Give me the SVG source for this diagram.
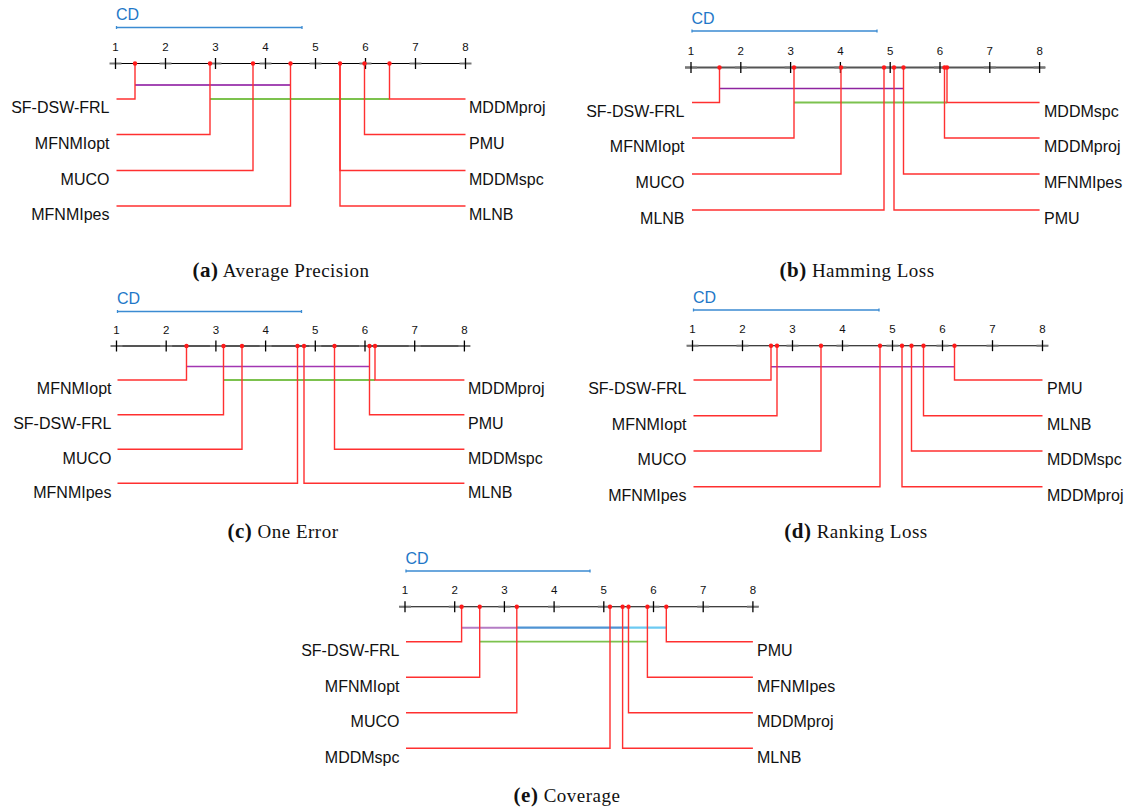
<svg xmlns="http://www.w3.org/2000/svg" xmlns:xlink="http://www.w3.org/1999/xlink" width="1129" height="809" viewBox="0 0 1129 809">
  <style>
    .lbl { font-family: "Liberation Sans", Arial, sans-serif; font-size: 16px; fill: #111; }
    .lbl.l { text-anchor: end; }
    .tk { font-family: "Liberation Sans", Arial, sans-serif; font-size: 11.5px; fill: #111; text-anchor: middle; }
    .cdt { font-family: "Liberation Sans", Arial, sans-serif; font-size: 16px; fill: #1f78c8; }
    .cdb { stroke: #3b8bd2; stroke-width: 1.3; fill: none; }
    .axis { stroke: #000; stroke-width: 1.1; fill: none; }
    .axis.g { stroke: #555; stroke-width: 1.8; }
    .ln { stroke: #ff3030; stroke-width: 1.4; fill: none; }
    .dot { fill: #ff1a1a; }
    .pu { stroke: #a448b4; stroke-width: 1.8; fill: none; }
    .gr { stroke: #7cc24e; stroke-width: 1.8; fill: none; }
    .bl { stroke: #4f93d3; stroke-width: 2.2; fill: none; }
    .cy { stroke: #6ccaf2; stroke-width: 2.2; fill: none; }
    .cap { font-family: "Liberation Serif", "Times New Roman", serif; font-size: 19px; fill: #111; text-anchor: middle; letter-spacing: 0.5px; }
    .capb { font-weight: bold; font-size: 21px; }
  </style>
  <defs>
    <!-- "+" tick marker on the rank axis -->
    <g id="plus">
      <path d="M-6 0H6" stroke="#777" stroke-width="2"/>
      <path d="M0 -5.5V5.5" stroke="#000" stroke-width="1.3"/>
    </g>
  </defs>

  <!-- ===================== (a) Average Precision ===================== -->
  <g id="panel-a">
    <g id="a-scale">
      <text class="cdt" x="116" y="20">CD</text>
      <path class="cdb" d="M116.5 27.5H302M116.5 26V29M302 26V29"/>
      <path class="axis" d="M110 63.5H471"/>
      <use xlink:href="#plus" x="115.5" y="63.5"/><use xlink:href="#plus" x="165.5" y="63.5"/>
      <use xlink:href="#plus" x="215.5" y="63.5"/><use xlink:href="#plus" x="265.5" y="63.5"/>
      <use xlink:href="#plus" x="315.5" y="63.5"/><use xlink:href="#plus" x="365.5" y="63.5"/>
      <use xlink:href="#plus" x="415.5" y="63.5"/><use xlink:href="#plus" x="465.5" y="63.5"/>
      <text class="tk" x="115.5" y="51">1</text><text class="tk" x="165.5" y="51">2</text>
      <text class="tk" x="215.5" y="51">3</text><text class="tk" x="265.5" y="51">4</text>
      <text class="tk" x="315.5" y="51">5</text><text class="tk" x="365.5" y="51">6</text>
      <text class="tk" x="415.5" y="51">7</text><text class="tk" x="465.5" y="51">8</text>
    </g>
    <g id="a-connectors">
      <path class="pu" d="M135 85H290.5"/>
      <path class="gr" d="M210 99H389.5"/>
      <path class="ln" d="M116.5 99H135V63.5"/>
      <path class="ln" d="M116.5 134.5H210V63.5"/>
      <path class="ln" d="M116.5 170.5H253V63.5"/>
      <path class="ln" d="M116.5 206H290.5V63.5"/>
      <path class="ln" d="M465.5 99H389.5V63.5"/>
      <path class="ln" d="M465.5 134.5H364.5V63.5"/>
      <path class="ln" d="M465.5 170.5H340V63.5"/>
      <path class="ln" d="M465.5 206H340V63.5"/>
    </g>
    <g id="a-sf-dsw-frl"><circle class="dot" cx="135" cy="63.5" r="2.2"/><text class="lbl l" x="109.5" y="113.3">SF-DSW-FRL</text></g>
    <g id="a-mfnmiopt"><circle class="dot" cx="210" cy="63.5" r="2.2"/><text class="lbl l" x="109.5" y="148.8">MFNMIopt</text></g>
    <g id="a-muco"><circle class="dot" cx="253" cy="63.5" r="2.2"/><text class="lbl l" x="109.5" y="184.8">MUCO</text></g>
    <g id="a-mfnmipes"><circle class="dot" cx="290.5" cy="63.5" r="2.2"/><text class="lbl l" x="109.5" y="220.3">MFNMIpes</text></g>
    <g id="a-mddmproj"><circle class="dot" cx="389.5" cy="63.5" r="2.2"/><text class="lbl" x="469" y="113.3">MDDMproj</text></g>
    <g id="a-pmu"><circle class="dot" cx="364.5" cy="63.5" r="2.2"/><text class="lbl" x="469" y="148.8">PMU</text></g>
    <g id="a-mddmspc"><circle class="dot" cx="340" cy="63.5" r="2.2"/><text class="lbl" x="469" y="184.8">MDDMspc</text></g>
    <g id="a-mlnb"><text class="lbl" x="469" y="220.3">MLNB</text></g>
    <text class="cap" x="281" y="277"><tspan class="capb">(a)</tspan> Average Precision</text>
  </g>

  <!-- ===================== (b) Hamming Loss ===================== -->
  <g id="panel-b">
    <g id="b-scale">
      <text class="cdt" x="691.5" y="24">CD</text>
      <path class="cdb" d="M692 31H877M692 29.5V32.5M877 29.5V32.5"/>
      <path class="axis g" d="M685 67.5H1045"/>
      <use xlink:href="#plus" x="691" y="67.5"/><use xlink:href="#plus" x="740.8" y="67.5"/>
      <use xlink:href="#plus" x="790.6" y="67.5"/><use xlink:href="#plus" x="840.4" y="67.5"/>
      <use xlink:href="#plus" x="890.2" y="67.5"/><use xlink:href="#plus" x="940" y="67.5"/>
      <use xlink:href="#plus" x="989.8" y="67.5"/><use xlink:href="#plus" x="1039.6" y="67.5"/>
      <text class="tk" x="691" y="55">1</text><text class="tk" x="740.8" y="55">2</text>
      <text class="tk" x="790.6" y="55">3</text><text class="tk" x="840.4" y="55">4</text>
      <text class="tk" x="890.2" y="55">5</text><text class="tk" x="940" y="55">6</text>
      <text class="tk" x="989.8" y="55">7</text><text class="tk" x="1039.6" y="55">8</text>
    </g>
    <g id="b-connectors">
      <path class="pu" d="M719.5 88.5H903.5" style="stroke:#8e24a0;stroke-width:1.4"/>
      <path class="gr" d="M794 102.5H947"/>
      <path class="ln" d="M692 102.5H719.5V67.5"/>
      <path class="ln" d="M692 138H794V67.5"/>
      <path class="ln" d="M692 174H841V67.5"/>
      <path class="ln" d="M692 210H884V67.5"/>
      <path class="ln" d="M1039.6 102.5H947V67.5"/>
      <path class="ln" d="M1039.6 138H944.5V67.5"/>
      <path class="ln" d="M1039.6 174H903.5V67.5"/>
      <path class="ln" d="M1039.6 210H894V67.5"/>
    </g>
    <g id="b-sf-dsw-frl"><circle class="dot" cx="719.5" cy="67.5" r="2.2"/><text class="lbl l" x="684.5" y="117">SF-DSW-FRL</text></g>
    <g id="b-mfnmiopt"><circle class="dot" cx="794" cy="67.5" r="2.2"/><text class="lbl l" x="684.5" y="152.3">MFNMIopt</text></g>
    <g id="b-muco"><circle class="dot" cx="841" cy="67.5" r="2.2"/><text class="lbl l" x="684.5" y="188.3">MUCO</text></g>
    <g id="b-mlnb"><circle class="dot" cx="884" cy="67.5" r="2.2"/><text class="lbl l" x="684.5" y="224.3">MLNB</text></g>
    <g id="b-mddmspc"><circle class="dot" cx="947" cy="67.5" r="2.2"/><text class="lbl" x="1044" y="117">MDDMspc</text></g>
    <g id="b-mddmproj"><circle class="dot" cx="944.5" cy="67.5" r="2.2"/><text class="lbl" x="1044" y="152.3">MDDMproj</text></g>
    <g id="b-mfnmipes"><circle class="dot" cx="903.5" cy="67.5" r="2.2"/><text class="lbl" x="1044" y="188.3">MFNMIpes</text></g>
    <g id="b-pmu"><circle class="dot" cx="894" cy="67.5" r="2.2"/><text class="lbl" x="1044" y="224.3">PMU</text></g>
    <text class="cap" x="857" y="277"><tspan class="capb">(b)</tspan> Hamming Loss</text>
  </g>

  <!-- ===================== (c) One Error ===================== -->
  <g id="panel-c">
    <g id="c-scale">
      <text class="cdt" x="117" y="304">CD</text>
      <path class="cdb" d="M117.5 311.5H301.5M117.5 310V313M301.5 310V313"/>
      <path class="axis g" d="M111 346H470"/>
      <use xlink:href="#plus" x="116.5" y="346"/><use xlink:href="#plus" x="166.2" y="346"/>
      <use xlink:href="#plus" x="215.9" y="346"/><use xlink:href="#plus" x="265.6" y="346"/>
      <use xlink:href="#plus" x="315.3" y="346"/><use xlink:href="#plus" x="365" y="346"/>
      <use xlink:href="#plus" x="414.7" y="346"/><use xlink:href="#plus" x="464.4" y="346"/>
      <text class="tk" x="116.5" y="334">1</text><text class="tk" x="166.2" y="334">2</text>
      <text class="tk" x="215.9" y="334">3</text><text class="tk" x="265.6" y="334">4</text>
      <text class="tk" x="315.3" y="334">5</text><text class="tk" x="365" y="334">6</text>
      <text class="tk" x="414.7" y="334">7</text><text class="tk" x="464.4" y="334">8</text>
    </g>
    <g id="c-connectors">
      <path class="pu" d="M186.5 366.5H369.5" style="stroke:#a236b2;stroke-width:1.5"/>
      <path class="gr" d="M223.5 380H375"/>
      <path class="ln" d="M117.5 380H186.5V346"/>
      <path class="ln" d="M117.5 414.7H223.5V346"/>
      <path class="ln" d="M117.5 449.3H242V346"/>
      <path class="ln" d="M117.5 483.3H297.5V346"/>
      <path class="ln" d="M464.4 380H375V346"/>
      <path class="ln" d="M464.4 414.7H369.5V346"/>
      <path class="ln" d="M464.4 449.3H334.5V346"/>
      <path class="ln" d="M464.4 483.3H304V346"/>
    </g>
    <g id="c-mfnmiopt"><circle class="dot" cx="186.5" cy="346" r="2.2"/><text class="lbl l" x="111.5" y="394.3">MFNMIopt</text></g>
    <g id="c-sf-dsw-frl"><circle class="dot" cx="223.5" cy="346" r="2.2"/><text class="lbl l" x="111.5" y="429">SF-DSW-FRL</text></g>
    <g id="c-muco"><circle class="dot" cx="242" cy="346" r="2.2"/><text class="lbl l" x="111.5" y="463.6">MUCO</text></g>
    <g id="c-mfnmipes"><circle class="dot" cx="297.5" cy="346" r="2.2"/><text class="lbl l" x="111.5" y="497.6">MFNMIpes</text></g>
    <g id="c-mddmproj"><circle class="dot" cx="375" cy="346" r="2.2"/><text class="lbl" x="468" y="394.3">MDDMproj</text></g>
    <g id="c-pmu"><circle class="dot" cx="369.5" cy="346" r="2.2"/><text class="lbl" x="468" y="429">PMU</text></g>
    <g id="c-mddmspc"><circle class="dot" cx="334.5" cy="346" r="2.2"/><text class="lbl" x="468" y="463.6">MDDMspc</text></g>
    <g id="c-mlnb"><circle class="dot" cx="304" cy="346" r="2.2"/><text class="lbl" x="468" y="497.6">MLNB</text></g>
    <text class="cap" x="283" y="538"><tspan class="capb">(c)</tspan> One Error</text>
  </g>

  <!-- ===================== (d) Ranking Loss ===================== -->
  <g id="panel-d">
    <g id="d-scale">
      <text class="cdt" x="693" y="303.3">CD</text>
      <path class="cdb" d="M693.5 310H879M693.5 308.5V311.5M879 308.5V311.5"/>
      <path class="axis" d="M687 345.7H1048"/>
      <use xlink:href="#plus" x="692.5" y="345.7"/><use xlink:href="#plus" x="742.5" y="345.7"/>
      <use xlink:href="#plus" x="792.5" y="345.7"/><use xlink:href="#plus" x="842.5" y="345.7"/>
      <use xlink:href="#plus" x="892.5" y="345.7"/><use xlink:href="#plus" x="942.5" y="345.7"/>
      <use xlink:href="#plus" x="992.5" y="345.7"/><use xlink:href="#plus" x="1042.5" y="345.7"/>
      <text class="tk" x="692.5" y="333.3">1</text><text class="tk" x="742.5" y="333.3">2</text>
      <text class="tk" x="792.5" y="333.3">3</text><text class="tk" x="842.5" y="333.3">4</text>
      <text class="tk" x="892.5" y="333.3">5</text><text class="tk" x="942.5" y="333.3">6</text>
      <text class="tk" x="992.5" y="333.3">7</text><text class="tk" x="1042.5" y="333.3">8</text>
    </g>
    <g id="d-connectors">
      <path class="pu" d="M771 366.7H954.5" style="stroke:#9c34ac;stroke-width:1.4"/>
      <path class="ln" d="M693.5 380H771V345.7"/>
      <path class="ln" d="M693.5 415.7H777V345.7"/>
      <path class="ln" d="M693.5 451H821V345.7"/>
      <path class="ln" d="M693.5 486.7H880V345.7"/>
      <path class="ln" d="M1042.5 380H954.5V345.7"/>
      <path class="ln" d="M1042.5 415.7H923.5V345.7"/>
      <path class="ln" d="M1042.5 451H911.5V345.7"/>
      <path class="ln" d="M1042.5 486.7H902V345.7"/>
    </g>
    <g id="d-sf-dsw-frl"><circle class="dot" cx="771" cy="345.7" r="2.2"/><text class="lbl l" x="686.5" y="394.3">SF-DSW-FRL</text></g>
    <g id="d-mfnmiopt"><circle class="dot" cx="777" cy="345.7" r="2.2"/><text class="lbl l" x="686.5" y="430">MFNMIopt</text></g>
    <g id="d-muco"><circle class="dot" cx="821" cy="345.7" r="2.2"/><text class="lbl l" x="686.5" y="465.3">MUCO</text></g>
    <g id="d-mfnmipes"><circle class="dot" cx="880" cy="345.7" r="2.2"/><text class="lbl l" x="686.5" y="501">MFNMIpes</text></g>
    <g id="d-pmu"><circle class="dot" cx="954.5" cy="345.7" r="2.2"/><text class="lbl" x="1047" y="394.3">PMU</text></g>
    <g id="d-mlnb"><circle class="dot" cx="923.5" cy="345.7" r="2.2"/><text class="lbl" x="1047" y="430">MLNB</text></g>
    <g id="d-mddmspc"><circle class="dot" cx="911.5" cy="345.7" r="2.2"/><text class="lbl" x="1047" y="465.3">MDDMspc</text></g>
    <g id="d-mddmproj"><circle class="dot" cx="902" cy="345.7" r="2.2"/><text class="lbl" x="1047" y="501">MDDMproj</text></g>
    <text class="cap" x="856" y="538"><tspan class="capb">(d)</tspan> Ranking Loss</text>
  </g>

  <!-- ===================== (e) Coverage ===================== -->
  <g id="panel-e">
    <g id="e-scale">
      <text class="cdt" x="405.5" y="564">CD</text>
      <path class="cdb" d="M406 571H590M406 569.5V572.5M590 569.5V572.5"/>
      <path class="axis" d="M399.5 606.7H758"/>
      <use xlink:href="#plus" x="405" y="606.7"/><use xlink:href="#plus" x="454.7" y="606.7"/>
      <use xlink:href="#plus" x="504.4" y="606.7"/><use xlink:href="#plus" x="554.1" y="606.7"/>
      <use xlink:href="#plus" x="603.8" y="606.7"/><use xlink:href="#plus" x="653.5" y="606.7"/>
      <use xlink:href="#plus" x="703.2" y="606.7"/><use xlink:href="#plus" x="752.9" y="606.7"/>
      <text class="tk" x="405" y="594">1</text><text class="tk" x="454.7" y="594">2</text>
      <text class="tk" x="504.4" y="594">3</text><text class="tk" x="554.1" y="594">4</text>
      <text class="tk" x="603.8" y="594">5</text><text class="tk" x="653.5" y="594">6</text>
      <text class="tk" x="703.2" y="594">7</text><text class="tk" x="752.9" y="594">8</text>
    </g>
    <g id="e-connectors">
      <path class="cy" d="M628.5 627.7H666.3"/>
      <path class="bl" d="M516.8 627.7H628.5"/>
      <path class="pu" d="M461.6 627.7H516.8" style="stroke:#b47cc4;stroke-width:2"/>
      <path class="gr" d="M479.7 641.7H647.4"/>
      <path class="ln" d="M406 641.7H461.6V606.7"/>
      <path class="ln" d="M406 677.3H479.7V606.7"/>
      <path class="ln" d="M406 712.7H516.8V606.7"/>
      <path class="ln" d="M406 748.3H610V606.7"/>
      <path class="ln" d="M752.9 641.7H666.3V606.7"/>
      <path class="ln" d="M752.9 677.3H647.4V606.7"/>
      <path class="ln" d="M752.9 712.7H628.5V606.7"/>
      <path class="ln" d="M752.9 748.3H622.6V606.7"/>
    </g>
    <g id="e-sf-dsw-frl"><circle class="dot" cx="461.6" cy="606.7" r="2.2"/><text class="lbl l" x="399.5" y="656">SF-DSW-FRL</text></g>
    <g id="e-mfnmiopt"><circle class="dot" cx="479.7" cy="606.7" r="2.2"/><text class="lbl l" x="399.5" y="691.6">MFNMIopt</text></g>
    <g id="e-muco"><circle class="dot" cx="516.8" cy="606.7" r="2.2"/><text class="lbl l" x="399.5" y="727">MUCO</text></g>
    <g id="e-mddmspc"><circle class="dot" cx="610" cy="606.7" r="2.2"/><text class="lbl l" x="399.5" y="762.6">MDDMspc</text></g>
    <g id="e-pmu"><circle class="dot" cx="666.3" cy="606.7" r="2.2"/><text class="lbl" x="757" y="656">PMU</text></g>
    <g id="e-mfnmipes"><circle class="dot" cx="647.4" cy="606.7" r="2.2"/><text class="lbl" x="757" y="691.6">MFNMIpes</text></g>
    <g id="e-mddmproj"><circle class="dot" cx="628.5" cy="606.7" r="2.2"/><text class="lbl" x="757" y="727">MDDMproj</text></g>
    <g id="e-mlnb"><circle class="dot" cx="622.6" cy="606.7" r="2.2"/><text class="lbl" x="757" y="762.6">MLNB</text></g>
    <text class="cap" x="567" y="802"><tspan class="capb">(e)</tspan> Coverage</text>
  </g>
</svg>
